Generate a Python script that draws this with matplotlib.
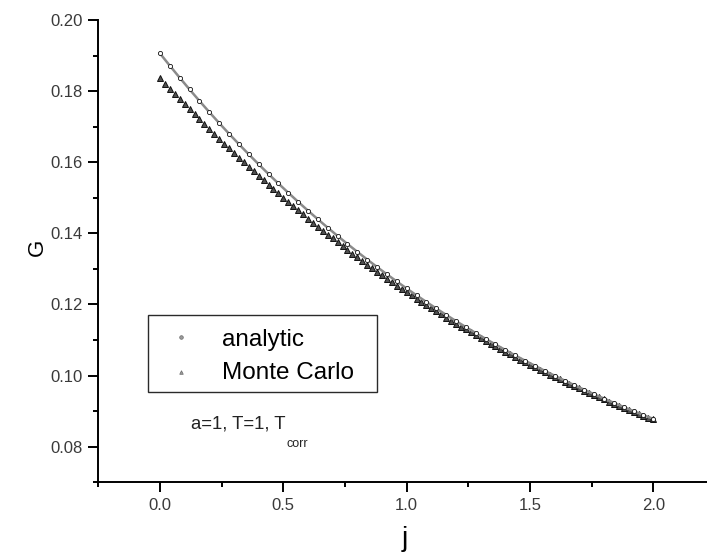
import numpy as np
import matplotlib
matplotlib.use("Agg")
import matplotlib.pyplot as plt
from matplotlib.lines import Line2D
from matplotlib.patches import Rectangle
from matplotlib.ticker import MultipleLocator, FormatStrFormatter

plt.rcParams['font.family'] = ['Liberation Sans', 'DejaVu Sans']

# analytic G(j), sampled every 0.04 on [0, 2]
g_analytic = [
    0.19060, 0.18714, 0.18377, 0.18047, 0.17725, 0.17410, 0.17102, 0.16802,
    0.16509, 0.16223, 0.15943, 0.15670, 0.15403, 0.15143, 0.14888, 0.14639,
    0.14397, 0.14160, 0.13928, 0.13702, 0.13481, 0.13265, 0.13054, 0.12848,
    0.12647, 0.12450, 0.12258, 0.12071, 0.11888, 0.11709, 0.11534, 0.11364,
    0.11198, 0.11035, 0.10876, 0.10721, 0.10569, 0.10421, 0.10277, 0.10135,
    0.09997, 0.09862, 0.09731, 0.09602, 0.09477, 0.09354, 0.09234, 0.09117,
    0.09003, 0.08891, 0.08782,
]

# Monte Carlo estimate of G(j), sampled every 0.02 on [0, 2]
g_montecarlo = [
    0.18360, 0.18213, 0.18065, 0.17921, 0.17776, 0.17633, 0.17490, 0.17350,
    0.17209, 0.17071, 0.16931, 0.16795, 0.16659, 0.16525, 0.16391, 0.16260,
    0.16128, 0.15999, 0.15870, 0.15743, 0.15616, 0.15492, 0.15367, 0.15245,
    0.15122, 0.15002, 0.14882, 0.14765, 0.14646, 0.14531, 0.14415, 0.14302,
    0.14189, 0.14079, 0.13968, 0.13859, 0.13750, 0.13643, 0.13537, 0.13433,
    0.13328, 0.13226, 0.13123, 0.13023, 0.12922, 0.12824, 0.12726, 0.12631,
    0.12534, 0.12440, 0.12345, 0.12253, 0.12161, 0.12072, 0.11981, 0.11893,
    0.11805, 0.11719, 0.11632, 0.11548, 0.11462, 0.11380, 0.11298, 0.11217,
    0.11136, 0.11058, 0.10978, 0.10901, 0.10823, 0.10748, 0.10672, 0.10598,
    0.10524, 0.10451, 0.10379, 0.10308, 0.10238, 0.10168, 0.10099, 0.10031,
    0.09964, 0.09898, 0.09831, 0.09767, 0.09702, 0.09639, 0.09575, 0.09514,
    0.09452, 0.09392, 0.09331, 0.09272, 0.09213, 0.09156, 0.09098, 0.09041,
    0.08985, 0.08930, 0.08875, 0.08821, 0.08766,
]

j_analytic = np.linspace(0.0, 2.0, len(g_analytic))
j_montecarlo = np.linspace(0.0, 2.0, len(g_montecarlo))

series_labels = ["analytic", "Monte Carlo"]
x_label = "j"
y_label = "G"
note_main = "a=1, T=1, T"
note_sub = "corr"

W, H = 707, 558
fig = plt.figure(figsize=(W / 100, H / 100), dpi=100)
fig.patch.set_facecolor("white")

# axes box in pixels (left, top, right, bottom)
L, T, R, B = 98.3, 20.0, 715.0, 482.3
ax = fig.add_axes([L / W, 1 - B / H, (R - L) / W, (B - T) / H])

ax.plot(j_montecarlo, g_montecarlo, linestyle="none", marker="^",
        markersize=4.6, markerfacecolor="#505050", markeredgecolor="#111111",
        markeredgewidth=0.7, zorder=2)
ax.plot(j_analytic, g_analytic, color="#8a8a8a", linewidth=1.8, zorder=3)
ax.plot(j_analytic, g_analytic, linestyle="none", marker="o",
        markersize=3.0, markerfacecolor="white", markeredgecolor="#111111",
        markeredgewidth=0.6, zorder=4)

ax.set_xlim(-0.25, 2.25)
ax.set_ylim(0.07, 0.20)

for side in ("top", "right"):
    ax.spines[side].set_visible(False)
for side in ("left", "bottom"):
    ax.spines[side].set_linewidth(1.4)
    ax.spines[side].set_color("black")

ax.xaxis.set_minor_locator(MultipleLocator(0.25))
ax.yaxis.set_minor_locator(MultipleLocator(0.01))
ax.set_xticks([t for t in np.arange(0.0, 2.01, 0.5)])
ax.set_yticks([t for t in np.arange(0.08, 0.2001, 0.02)])
ax.xaxis.set_major_formatter(FormatStrFormatter("%.1f"))
ax.yaxis.set_major_formatter(FormatStrFormatter("%.2f"))

ax.tick_params(which="major", direction="out", length=7, width=1.4,
               color="black", labelsize=12, labelcolor="#3a3a3a", pad=4)
ax.tick_params(which="minor", direction="out", length=3.5, width=1.4,
               color="black")

ax.set_xlabel(x_label, fontsize=20, color="black")
ax.set_ylabel(y_label, fontsize=16, color="black")
ax.xaxis.set_label_coords((405 - L) / (R - L), (B - 526) / (B - T))
ax.xaxis.label.set_va("top")
ax.yaxis.set_label_coords((48 - L) / (R - L), (B - 247) / (B - T))

# legend box drawn in figure pixels
def fx(px):
    return px / W

def fy(py):
    return 1 - py / H

fig.add_artist(Rectangle((fx(148.3), fy(392.3)), (377.3 - 148.3) / W,
                         (392.3 - 315.0) / H, transform=fig.transFigure,
                         facecolor="white", edgecolor="#2a2a2a",
                         linewidth=1.0, zorder=5))
legend_rows = [(337.3, 345.7, "o"), (371.7, 379.0, "^")]
for (ymark, ybase, mk), lab in zip(legend_rows, series_labels):
    fig.add_artist(Line2D([fx(181)], [fy(ymark)], transform=fig.transFigure,
                          linestyle="none", marker=mk, markersize=2.6,
                          markerfacecolor="#9a9a9a", markeredgecolor="#6a6a6a",
                          markeredgewidth=0.5, zorder=6))
    fig.text(fx(221.7), fy(ybase), lab, fontsize=17.5, color="black",
             ha="left", va="baseline", zorder=6)

t_main = fig.text(fx(190.7), fy(428.3), note_main, fontsize=13.3,
                  color="#222222", ha="left", va="baseline")
fig.canvas.draw()
bb = t_main.get_window_extent(renderer=fig.canvas.get_renderer())
fig.text((bb.x1 + 1) / W, fy(446.7), note_sub, fontsize=9,
         color="#222222", ha="left", va="baseline")

fig.savefig("out.png", dpi=100, facecolor="white")
